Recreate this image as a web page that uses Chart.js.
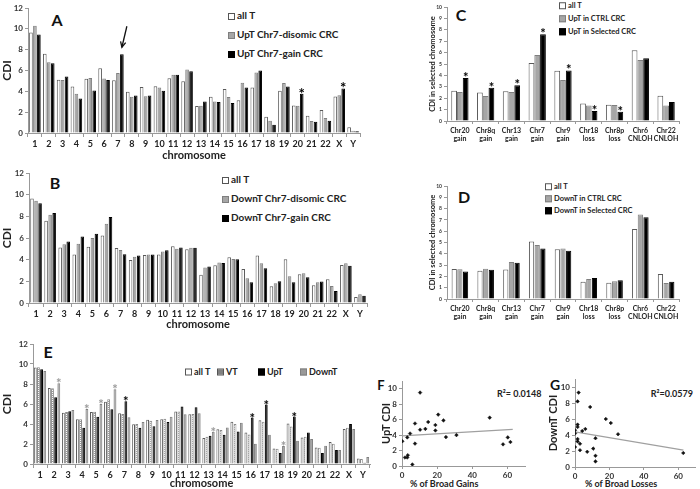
<!DOCTYPE html>
<html>
<head>
<meta charset="utf-8">
<script src="https://cdn.jsdelivr.net/npm/chart.js@4.4.1/dist/chart.umd.min.js"></script>
<style>
body{margin:0;width:700px;height:489px;overflow:hidden;background:#fff;font-family:Lato,sans-serif;position:relative}
canvas{position:absolute}
.t{position:absolute;font-weight:bold;color:#222;white-space:nowrap;line-height:1;transform:translateY(-50%)}
.box{display:inline-block;width:5px;height:5px;border:1px solid #555;margin-right:2px;vertical-align:-1px}
.wht{background:#fff}.gry{background:#a6a6a6;border-color:#7f7f7f}.blk{background:#000;border-color:#000}
.dot{background-color:#fff;background-image:radial-gradient(#777 0.7px,transparent 0.8px);background-size:2px 2px}
.let{position:absolute;font-weight:bold;color:#111;line-height:1;transform:translate(-50%,-50%)}
</style>
</head>
<body>

<div class="let" style="left:57px;top:20px;font-size:16px">A</div>
<div class="let" style="left:55px;top:183px;font-size:16px">B</div>
<div class="let" style="left:461px;top:15px;font-size:16px">C</div>
<div class="let" style="left:464px;top:197px;font-size:16px">D</div>
<div class="let" style="left:48px;top:352px;font-size:16px">E</div>
<div class="let" style="left:381px;top:385px;font-size:13px">F</div>
<div class="let" style="left:555px;top:385px;font-size:14px">G</div>

<div class="t" style="left:228px;top:15px;font-size:10px"><span class="box wht"></span>all T</div>
<div class="t" style="left:228px;top:34px;font-size:10px"><span class="box gry"></span>UpT Chr7-disomic CRC</div>
<div class="t" style="left:228px;top:53px;font-size:10px"><span class="box blk"></span>UpT Chr7-gain CRC</div>

<div class="t" style="left:222px;top:179px;font-size:10px"><span class="box wht"></span>all T</div>
<div class="t" style="left:222px;top:198px;font-size:10px"><span class="box gry"></span>DownT Chr7-disomic CRC</div>
<div class="t" style="left:222px;top:217px;font-size:10px"><span class="box blk"></span>DownT Chr7-gain CRC</div>

<div class="t" style="left:559px;top:6px;font-size:7.5px"><span class="box wht"></span>all T</div>
<div class="t" style="left:559px;top:19px;font-size:7.5px"><span class="box gry"></span>UpT in CTRL CRC</div>
<div class="t" style="left:559px;top:32px;font-size:7.5px"><span class="box blk"></span>UpT in Selected CRC</div>

<div class="t" style="left:545px;top:187px;font-size:7.5px"><span class="box wht"></span>all T</div>
<div class="t" style="left:545px;top:199px;font-size:7.5px"><span class="box gry"></span>DownT in CTRL CRC</div>
<div class="t" style="left:545px;top:211px;font-size:7.5px"><span class="box blk"></span>DownT in Selected CRC</div>

<div class="t" style="left:185px;top:371px;font-size:9px"><span class="box wht"></span>all T</div>
<div class="t" style="left:217px;top:371px;font-size:9px"><span class="box dot"></span>VT</div>
<div class="t" style="left:258px;top:371px;font-size:9px"><span class="box blk"></span>UpT</div>
<div class="t" style="left:300px;top:371px;font-size:9px"><span class="box gry" style="background:#999"></span>DownT</div>

<div class="t" style="left:497px;top:393px;font-size:9px">R²= 0.0148</div>
<div class="t" style="right:7px;top:393px;font-size:9px">R²=0.0579</div>
<div class="t" style="left:410px;top:483px;font-size:9px">% of Broad Gains</div>
<div class="t" style="left:585px;top:483px;font-size:9px">% of Broad Losses</div>

<script>
// chromosomes on panels A, B, E
const chromosomes = ['1','2','3','4','5','6','7','8','9','10','11','12','13','14','15','16','17','18','19','20','21','22','X','Y'];
const allT = [9.65,7.6,5.12,4.47,5.2,6.22,5.07,3.97,4.42,4.48,5.25,4.97,2.6,3.48,4.22,3.15,4.38,1.55,4.05,2.65,1.65,2.2,3.5,0.55];

// A
const upDisomic = [10.3,6.8,5.1,3.77,5.27,5.23,5.75,3.48,3.54,4.37,5.59,6.1,2.62,3.03,3.45,4.82,5.81,1.18,4.79,2.62,1.15,1.44,3.63,0.22];
const upGain = [9.45,6.7,5.43,3.32,4.08,5.1,7.56,3.6,3.6,4.05,5.59,5.94,3.03,2.97,2.87,4.37,6.0,0.8,4.47,3.77,1.09,1.18,4.28,0.16];
const starsA = ['20','X'];

// B
const downDisomic = [9.44,8.15,5.43,5.46,5.99,7.31,4.9,4.26,4.48,4.75,5.0,5.09,3.27,3.73,4.07,2.28,3.67,1.82,2.47,2.75,1.91,1.57,3.66,0.8];
const downGain = [9.2,8.3,5.68,6.14,6.39,7.93,4.5,4.38,4.48,4.88,5.12,5.09,3.36,3.7,4.04,1.91,3.21,2.0,1.91,2.38,1.98,1.11,3.45,0.68];

// E
const vtCDI = [9.67,7.57,5.2,4.47,5.23,6.47,5.0,4.0,4.33,4.53,5.25,5.0,2.72,3.39,3.99,2.96,4.22,1.53,3.75,2.72,1.63,2.03,3.63,0.5];
const upT = [9.47,6.67,5.27,3.63,4.73,5.47,6.27,3.63,3.77,4.2,5.75,5.68,2.82,2.92,3.26,4.65,5.95,1.1,4.75,3.16,1.1,1.4,4.0,0.13];
const downT = [9.3,8.07,5.4,5.5,6.0,7.47,4.67,4.2,4.4,4.73,4.98,5.08,3.22,3.65,4.12,2.03,2.92,1.79,2.33,2.49,1.83,1.4,3.5,0.7];
const starsDownT = ['2','4','5','6','13','18'];
const starsUpT = ['7','16','17','19'];

// C and D
const selected = [['Chr20','gain'],['Chr8q','gain'],['Chr13','gain'],['Chr7','gain'],['Chr9','gain'],['Chr18','loss'],['Chr8p','loss'],['Chr6','CNLOH'],['Chr22','CNLOH']];
const selAllT = [2.65,2.51,2.62,5.08,4.41,1.53,1.43,6.2,2.21];
const upCtrl = [2.55,2.2,2.55,5.79,3.6,1.37,1.4,5.35,1.37];
const upSelected = [3.77,2.92,3.13,7.6,4.44,0.88,0.82,5.5,1.67];
const starsC = ['Chr20 gain','Chr8q gain','Chr13 gain','Chr7 gain','Chr9 gain','Chr18 loss','Chr8p loss'];
const downCtrl = [2.64,2.67,3.28,4.78,4.46,1.76,1.58,7.48,1.41];
const downSelected = [2.43,2.58,3.2,4.46,4.28,1.85,1.67,7.24,1.52];

// F and G
const gainsPct = [0.2,1.7,3.0,3.3,3.0,4.6,5.9,7.4,7.4,10.3,10.3,13.3,14.9,19,19,20.6,23.6,25,31,49.9,57.5,60.2,61.7];
const upCDI = [3.2,1.1,1.1,1.4,3.7,4.2,0.2,5.5,2.9,9.5,4.7,4.8,5.7,5.3,4.6,6.65,5.9,3.74,4.0,6.26,2.8,3.7,3.1];
const gainsTrendX = [0,63];
const gainsTrendY = [3.9,4.75];
const lossesPct = [0,0,0,1.5,2.1,1.5,1.5,1.5,1.5,2.9,2.9,4.2,6,7.1,8.8,10.6,11.9,11.9,11.9,17.9,20.8,25,62.9];
const downCDI = [2.5,4.6,4.2,8.2,9.3,5.3,5.0,3.5,3.2,2.9,2.1,4.5,4.75,1.9,7.5,2.3,3.6,1.4,0.7,6.0,5.5,4.1,1.75];
const lossesTrendX = [0,63];
const lossesTrendY = [4.4,2.1];

Chart.defaults.font.family = 'Lato';
Chart.defaults.color = '#222';
Chart.defaults.animation = false;

const AX = '#999';
const WHITE = {backgroundColor:'#fff', borderColor:'#595959', borderWidth:1};
const GRAY = {backgroundColor:'#a6a6a6', borderColor:'#7f7f7f', borderWidth:1};
const BLACK = {backgroundColor:'#000', borderColor:'#000', borderWidth:1};

function dotPattern() {
  const c = document.createElement('canvas');
  c.width = 2; c.height = 2;
  const x = c.getContext('2d');
  x.fillStyle = '#fff'; x.fillRect(0,0,2,2);
  x.fillStyle = '#8a8a8a'; x.fillRect(0,0,1,1);
  return x.createPattern(c, 'repeat');
}

function place(left, top, w, h) {
  const c = document.createElement('canvas');
  c.width = w; c.height = h;
  c.style.left = left + 'px'; c.style.top = top + 'px';
  document.body.appendChild(c);
  return c;
}

function labelKey(l) { return [].concat(l).join(' '); }

function starPlugin(list) {
  return {
    id: 'stars',
    afterDatasetsDraw(chart) {
      const ctx = chart.ctx;
      ctx.save();
      ctx.textAlign = 'center';
      list.forEach(s => {
        const meta = chart.getDatasetMeta(s.ds);
        ctx.font = 'bold ' + s.size + 'px Lato';
        ctx.fillStyle = s.color;
        s.at.forEach(name => {
          const i = chart.data.labels.findIndex(l => labelKey(l) === name);
          const bar = meta.data[i];
          ctx.fillText('*', bar.x, bar.y + s.dy);
        });
      });
      ctx.restore();
    }
  };
}

// arrow pointing at chr7 in panel A
const arrowPlugin = {
  id: 'arrow',
  afterDatasetsDraw(chart) {
    const bar = chart.getDatasetMeta(2).data[6];
    const ctx = chart.ctx;
    const x1 = bar.x + 5, y1 = bar.y - 28, x2 = bar.x, y2 = bar.y - 7;
    ctx.save();
    ctx.strokeStyle = '#111'; ctx.lineWidth = 1.3;
    ctx.beginPath(); ctx.moveTo(x1, y1); ctx.lineTo(x2, y2); ctx.stroke();
    const a = Math.atan2(y2 - y1, x2 - x1);
    ctx.beginPath();
    ctx.moveTo(x2 - 6 * Math.cos(a - 0.45), y2 - 6 * Math.sin(a - 0.45));
    ctx.lineTo(x2, y2);
    ctx.lineTo(x2 - 6 * Math.cos(a + 0.45), y2 - 6 * Math.sin(a + 0.45));
    ctx.stroke();
    ctx.restore();
  }
};

function barChart(box, area, labels, datasets, o) {
  const c = place(box.left, box.top, box.w, box.h);
  return new Chart(c, {
    type: 'bar',
    data: {labels: labels, datasets: datasets},
    options: {
      responsive: false,
      layout: {padding: {top: area.t, right: box.w - area.r, left: 0, bottom: 0}},
      datasets: {bar: {categoryPercentage: o.cat, barPercentage: o.bar, borderSkipped: 'bottom'}},
      plugins: {legend: {display: false}, tooltip: {enabled: false}},
      scales: {
        x: {
          afterFit: s => { s.height = box.h - area.b; },
          grid: {drawOnChartArea: false, tickLength: o.xTick, color: AX},
          border: {color: AX},
          ticks: {autoSkip: false, maxRotation: 0, padding: o.xPad, font: {size: o.xFont, weight: 'bold', lineHeight: 1.1}, color: '#222'},
          title: {display: !!o.xTitle, text: o.xTitle, padding: 0, font: {size: 11, weight: 'bold'}, color: '#222'}
        },
        y: {
          min: 0, max: o.yMax,
          afterFit: s => { s.width = area.l; },
          grid: {drawOnChartArea: false, tickLength: 3, color: AX},
          border: {color: AX},
          ticks: {stepSize: o.yStep, padding: 2, font: {size: o.yFont, weight: 'bold'}, color: '#333'},
          title: {display: true, text: o.yTitle, padding: 0, font: {size: o.yTitleFont, weight: 'bold'}, color: '#222'}
        }
      }
    },
    plugins: o.plugins || []
  });
}

const bigOpts = {yMax: 12, yStep: 2, yFont: 8, yTitle: 'CDI', yTitleFont: 12, xFont: 9, xTick: 4, xPad: 2, xTitle: 'chromosome'};

// A
barChart({left: 0, top: 0, w: 365, h: 162}, {l: 28, t: 8, r: 360, b: 133}, chromosomes, [
  Object.assign({data: allT}, WHITE),
  Object.assign({data: upDisomic}, GRAY),
  Object.assign({data: upGain}, BLACK)
], Object.assign({}, bigOpts, {cat: 0.86, bar: 0.92,
  plugins: [starPlugin([{ds: 2, at: starsA, color: '#000', size: 15, dy: 5}]), arrowPlugin]}));

// B
barChart({left: 0, top: 160, w: 370, h: 171}, {l: 29, t: 13, r: 367, b: 143}, chromosomes, [
  Object.assign({data: allT}, WHITE),
  Object.assign({data: downDisomic}, GRAY),
  Object.assign({data: downGain}, BLACK)
], Object.assign({}, bigOpts, {cat: 0.86, bar: 0.88}));

// E
barChart({left: 0, top: 335, w: 375, h: 155}, {l: 33, t: 9, r: 370, b: 129}, chromosomes, [
  Object.assign({data: allT}, WHITE),
  {data: vtCDI, backgroundColor: dotPattern(), borderColor: '#8a8a8a', borderWidth: 1},
  Object.assign({data: upT}, BLACK),
  {data: downT, backgroundColor: '#999', borderColor: '#808080', borderWidth: 1}
], Object.assign({}, bigOpts, {cat: 0.9, bar: 0.9,
  plugins: [starPlugin([
    {ds: 3, at: starsDownT, color: '#9a9a9a', size: 13, dy: 5},
    {ds: 2, at: starsUpT, color: '#000', size: 13, dy: 5}
  ])]}));

const smallOpts = {yMax: 10, yStep: 1, yFont: 5, yTitle: 'CDI in selected chromosome', yTitleFont: 7.5, xFont: 7, xTick: 3, xPad: 3, xTitle: ''};

// C
barChart({left: 428, top: 0, w: 272, h: 165}, {l: 19, t: 7, r: 251, b: 121}, selected, [
  Object.assign({data: selAllT}, WHITE),
  Object.assign({data: upCtrl}, GRAY),
  Object.assign({data: upSelected}, BLACK)
], Object.assign({}, smallOpts, {cat: 0.67, bar: 1.0,
  plugins: [starPlugin([{ds: 2, at: starsC, color: '#000', size: 13, dy: 4}])]}));

// D
barChart({left: 428, top: 178, w: 272, h: 152}, {l: 19, t: 8, r: 251, b: 121}, selected, [
  Object.assign({data: selAllT}, WHITE),
  Object.assign({data: downCtrl}, GRAY),
  Object.assign({data: downSelected}, BLACK)
], Object.assign({}, smallOpts, {cat: 0.66, bar: 0.92}));

function scatterChart(box, area, xs, ys, tx, ty, yTitle, titlePad) {
  const c = place(box.left, box.top, box.w, box.h);
  return new Chart(c, {
    type: 'scatter',
    data: {datasets: [
      {data: xs.map((x, i) => ({x: x, y: ys[i]})), pointStyle: 'rectRot', pointRadius: 1.8, backgroundColor: '#111', borderColor: '#111', borderWidth: 0.5},
      {data: tx.map((x, i) => ({x: x, y: ty[i]})), showLine: true, pointRadius: 0, borderColor: '#a0a0a0', borderWidth: 1.2}
    ]},
    options: {
      responsive: false,
      layout: {padding: {top: area.t, right: box.w - area.r, left: 0, bottom: 0}},
      plugins: {legend: {display: false}, tooltip: {enabled: false}},
      scales: {
        x: {
          min: 0, max: 70,
          afterFit: s => { s.height = box.h - area.b; },
          grid: {drawOnChartArea: false, tickLength: 3, color: AX},
          border: {color: AX},
          ticks: {stepSize: 20, includeBounds: false, padding: 2, font: {size: 8, weight: 'bold'}, color: '#333'}
        },
        y: {
          min: 0, max: 11,
          afterFit: s => { s.width = area.l; },
          grid: {drawOnChartArea: false, tickLength: 3, color: AX},
          border: {color: AX},
          ticks: {stepSize: 2, includeBounds: false, padding: 2, font: {size: 8, weight: 'bold'}, color: '#333'},
          title: {display: true, text: yTitle, padding: {top: titlePad, bottom: 0}, font: {size: 11, weight: 'bold'}, color: '#222'}
        }
      }
    }
  });
}

// F
scatterChart({left: 360, top: 372, w: 170, h: 117}, {l: 42, t: 9, r: 165, b: 94}, gainsPct, upCDI, gainsTrendX, gainsTrendY, 'UpT CDI', 20);
// G
scatterChart({left: 530, top: 372, w: 170, h: 117}, {l: 45, t: 7, r: 166, b: 95}, lossesPct, downCDI, lossesTrendX, lossesTrendY, 'DownT CDI', 17);
</script>
</body>
</html>
